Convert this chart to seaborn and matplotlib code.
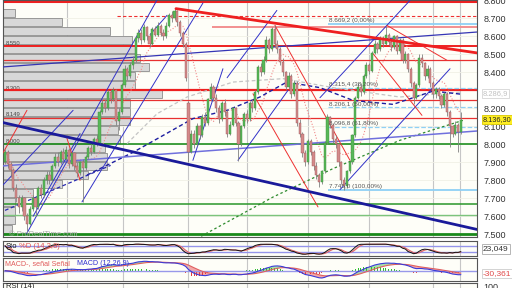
import numpy as np
import pandas as pd
import matplotlib
matplotlib.use("Agg")
import matplotlib.pyplot as plt
import matplotlib.transforms as mtrans
from matplotlib.ticker import FuncFormatter
import seaborn as sns

sns.set_theme(style="white")
plt.rcParams['font.family'] = ['Liberation Sans', 'DejaVu Sans']

# ---------------- data ----------------
opens = [7900,7960,7890,7860,7760,7700,7650,7700,7600,7560,
         7640,7700,7650,7760,7720,7800,7830,7800,7880,7930,
         7900,7960,7920,7970,7890,7950,7880,7840,7900,7870,
         7930,7980,7960,8030,8010,8180,8230,8200,8290,8250,
         8300,8130,8180,8330,8420,8380,8440,8470,8590,8620,
         8580,8650,8600,8560,8640,8610,8660,8620,8600,8660,
         8720,8700,8740,8680,8620,8560,8230,7960,8060,8000,
         8100,8050,8150,8120,8250,8320,8260,8200,8140,8230,
         8180,8060,8110,8200,8120,8000,8100,8170,8140,8230,
         8200,8290,8430,8400,8470,8580,8530,8640,8560,8530,
         8460,8400,8320,8380,8280,8340,8120,8060,7950,7900,
         8020,7960,7880,7830,7790,7850,8010,8150,8110,8030,
         8000,7900,7800,7770,7850,7900,8050,8260,8320,8290,
         8380,8440,8410,8510,8560,8530,8590,8560,8610,8570,
         8540,8600,8520,8580,8470,8500,8420,8340,8260,8330,
         8480,8450,8380,8420,8340,8280,8310,8270,8220,8280,
         8180,8100,8060,8110,8070]
closes = [7960,7890,7860,7760,7700,7650,7700,7600,7560,7640,
          7700,7650,7760,7720,7800,7830,7800,7880,7930,7900,
          7960,7920,7970,7890,7950,7880,7840,7900,7870,7930,
          7980,7960,8030,8010,8180,8230,8200,8290,8250,8300,
          8130,8180,8330,8420,8380,8440,8470,8590,8620,8580,
          8650,8600,8560,8640,8610,8660,8620,8600,8660,8720,
          8700,8740,8680,8620,8560,8370,7960,8060,8000,8100,
          8050,8150,8120,8250,8320,8260,8200,8140,8230,8180,
          8060,8110,8200,8120,8000,8100,8170,8140,8230,8200,
          8290,8430,8400,8470,8580,8530,8640,8560,8530,8460,
          8400,8320,8380,8280,8340,8120,8060,7950,7900,8020,
          7960,7880,7830,7790,7850,8010,8150,8110,8030,8000,
          7900,7800,7770,7850,7900,8050,8260,8320,8290,8380,
          8440,8410,8510,8560,8530,8590,8560,8610,8570,8540,
          8600,8520,8580,8470,8500,8420,8340,8260,8330,8480,
          8450,8380,8420,8340,8280,8310,8270,8220,8280,8180,
          8100,8060,8110,8070,8136.3]
highs = [7975,7970,7900,7870,7780,7720,7720,7710,7620,7660,
         7720,7710,7770,7780,7820,7850,7850,7890,7950,7960,
         7970,7980,7990,7980,7960,7960,7900,7910,7920,7940,
         7990,8000,8040,8050,8190,8250,8250,8300,8310,8320,
         8310,8200,8340,8440,8430,8460,8490,8600,8640,8640,
         8670,8660,8620,8650,8660,8680,8670,8640,8680,8730,
         8740,8755,8745,8690,8630,8570,8240,8080,8080,8120,
         8110,8170,8180,8260,8340,8330,8280,8220,8240,8250,
         8190,8130,8210,8210,8130,8110,8180,8190,8240,8250,
         8300,8440,8450,8490,8600,8590,8650,8665,8580,8540,
         8480,8410,8400,8390,8360,8350,8140,8070,7970,8030,
         8030,7970,7900,7840,7860,8020,8170,8160,8120,8050,
         8010,7910,7820,7860,7910,8060,8270,8340,8340,8390,
         8460,8450,8520,8580,8570,8600,8600,8660,8620,8590,
         8610,8610,8590,8590,8520,8510,8430,8350,8340,8500,
         8500,8460,8440,8430,8350,8320,8320,8280,8290,8290,
         8190,8110,8130,8120,8180]
lows = [7890,7870,7820,7740,7680,7620,7630,7580,7520,7550,
        7630,7600,7640,7700,7710,7780,7780,7790,7870,7880,
        7890,7900,7910,7870,7880,7860,7820,7830,7680,7860,
        7920,7940,7950,7990,8000,8170,8180,8190,8230,8240,
        8110,8080,8170,8320,8360,8370,8420,8460,8570,8560,
        8570,8580,8540,8550,8600,8600,8600,8580,8590,8650,
        8680,8690,8660,8600,8540,8350,7900,7950,7980,7990,
        8030,8040,8100,8110,8240,8240,8180,8120,8130,8160,
        8040,8050,8100,8100,7910,7990,8090,8120,8130,8180,
        8190,8280,8380,8390,8460,8510,8520,8540,8510,8440,
        8380,8300,8310,8260,8270,8100,8040,7930,7880,7890,
        7940,7860,7810,7762,7780,7840,8000,8090,8010,7980,
        7880,7780,7745,7760,7840,7890,8040,8250,8270,8280,
        8370,8390,8400,8500,8510,8520,8540,8550,8550,8520,
        8530,8500,8510,8450,8450,8400,8320,8225,8250,8320,
        8430,8360,8370,8320,8260,8260,8250,8200,8210,8160,
        7985,8040,8050,7957,8060]

# volume-at-price profile (left side)
prof_prices = [8730,8680,8630,8580,8530,8480,8430,8380,8330,8280,8230,8180,8130,
               8080,8030,7980,7930,7880,7830,7780,7730,7680,7630,7580,7530]
prof_volume = [12,59,107,129,132,137,146,132,132,159,127,127,127,
               115,117,102,104,104,85,59,30,12,12,12,9]
prof_labels = ["8.550", "8.300", "8.149", "8.000"]
prof_label_prices = [8560, 8312, 8165, 8018]

# horizontal support/resistance levels
lvl_prices = [8798, 8547, 8471, 8300, 8248, 8149, 8000, 7671, 7606, 7500]
lvl_colors = ["#ee2020", "#ee2020", "#e83030", "#ee2020", "#e83030", "#e83030",
              "#1f8f1f", "#2a962a", "#7cc47c", "#1a8a1a"]
lvl_widths = [2.2, 1.4, 0.9, 1.6, 0.9, 0.9, 1.2, 1.1, 1.0, 2.0]

# Fibonacci retracement
fib_start = 116.2
fib_prices = [8669.2, 8315.4, 8206.1, 8096.8, 7745.0]
fib_labels = ["8.669,2 (0,00%)", "8.315,4 (38,20%)", "8.206,1 (50,00%)",
              "8.096,8 (61,80%)", "7.745,0 (100,00%)"]
fib_styles = ["-", "--", "--", "--", "-"]

# axis tick values (8.300 is hidden behind the price box in the reference)
ytick_vals = [7500, 7600, 7700, 7800, 7900, 8000, 8100, 8200, 8400, 8500, 8600, 8700, 8800]

# trend lines: (start index, start price, end index, end price)
thick_lines = [(-0.8, 8121, 169.8, 7527, "#1a1a9a", 2.0),
               (61.5, 8754, 169.8, 8508, "#ee2020", 2.0)]
long_blue = [(-0.8, 8430, 169.8, 8624, "#3535b5", 0.9),
             (-0.8, 7880, 169.8, 8074, "#7070dd", 1.1)]
channel_blue = [(-0.8, 7773, 24.5, 8189), (7.8, 7504, 54.6, 8800),
                (27.7, 7680, 71.2, 8785), (10.1, 7600, 27.0, 8060),
                (52.2, 8610, 58.3, 8717), (67.6, 7911, 78.4, 8420),
                (79.9, 8370, 97.8, 8744), (83.8, 7911, 101.8, 8300),
                (113.3, 8259, 145.7, 8800), (120.5, 7748, 160.1, 8420)]
channel_red = [(89.2, 8281, 112.6, 7652), (97.1, 8661, 124.1, 7911),
               (132.4, 8504, 150.0, 8161), (137.4, 8661, 159.0, 8467),
               (22.3, 8033, 27.0, 7800), (-0.8, 7950, 7.9, 8189)]

# moving averages (index, value)
ma_blue_idx = [29.5, 46, 55.8, 67.6, 79.9, 91.7, 101.4, 113.3, 125.2, 139.6, 154, 164.4]
ma_blue_val = [7829, 7955, 8040, 8143, 8189, 8263, 8346, 8315, 8244, 8222, 8296, 8278]
ma_blue2_idx = [0, 38]
ma_blue2_val = [7633, 7883]
ma_green_idx = [69, 96.4, 118, 142, 164.7]
ma_green_val = [7476, 7707, 7865, 8022, 8133]
ma_grey_idx = [43.9, 54.7, 65.5, 82, 100, 118, 142, 164.4]
ma_grey_val = [8004, 8170, 8263, 8346, 8365, 8315, 8263, 8291]

month_lines = [22.3, 42.4, 65.8, 87.1, 109, 130.9, 154, 163.7]

# ---------------- figure ----------------
W, H = 512.0, 288.0
fig = plt.figure(figsize=(5.12, 2.88), dpi=100, facecolor="white")

def rect(x0, y0, x1, y1):
    return [x0 / W, 1 - y1 / H, (x1 - x0) / W, (y1 - y0) / H]

XL = (-0.72, 169.8)
YL = (7485, 8802)
BG = "#fefef8"
FRAME = "#555555"

def clean(a, face):
    a.set_facecolor(face)
    a.set_xticks([]); a.set_yticks([])
    a.set_xlabel(""); a.set_ylabel("")
    for s in a.spines.values():
        s.set_visible(False)

ax_bg = fig.add_axes(rect(3, 0, 477, 237))
clean(ax_bg, BG)
ax_bg.set_xlim(*XL); ax_bg.set_ylim(*YL)
for m in month_lines:
    ax_bg.axvline(m, color="#c6c6c6", lw=0.8)
for p in range(7500, 8801, 100):
    ax_bg.axhline(p, color="#f0f0e6", lw=0.6)

ax_prof = fig.add_axes(rect(3, 0, 477, 237))
clean(ax_prof, "none")
ax_prof.set_xlim(0, 474); ax_prof.set_ylim(*YL)
ax_prof.barh(prof_prices, prof_volume, height=48, left=0, color="#d8d8d8",
             edgecolor="#8c8c8c", linewidth=0.6, align="center")
for lab, pp in zip(prof_labels, prof_label_prices):
    ax_prof.text(3, pp, lab, fontsize=4.2, color="#444444", va="center", ha="left")

ax = fig.add_axes(rect(3, 0, 477, 237), facecolor="none")
ax.set_xlim(*XL); ax.set_ylim(*YL)

# levels
for p, c, w in zip(lvl_prices, lvl_colors, lvl_widths):
    ax.axhline(p, color=c, lw=w, zorder=2)
ax.hlines(8715, 40.3, XL[1], colors="#ee3030", linestyles=(0, (3, 2)), lw=0.8, zorder=2)
ax.hlines(8652, 74.5, XL[1], colors="#f29090", lw=1.4, zorder=2)

# Fibonacci
for p, lab, st in zip(fib_prices, fib_labels, fib_styles):
    ax.hlines(p, fib_start, XL[1], colors="#8fd0f5", linestyles=st,
              lw=1.3 if st == "-" else 0.9, zorder=2)
    ax.text(fib_start + 0.3, p + 4, lab, fontsize=4.6, color="#555555",
            va="bottom", ha="left", zorder=6)

# moving averages
s_close = pd.Series(closes)
ma_red = s_close.rolling(10, min_periods=1).mean()
sns.lineplot(x=np.arange(len(closes)), y=ma_red.values, ax=ax, color="#f08a8a",
             lw=0.8, linestyle=(0, (1, 1.6)), zorder=2)
sns.lineplot(x=ma_grey_idx, y=ma_grey_val, ax=ax, color="#c4c4c4", lw=0.9,
             linestyle=(0, (3, 2)), zorder=2)
sns.lineplot(x=ma_green_idx, y=ma_green_val, ax=ax, color="#2e8b2e", lw=0.9,
             linestyle=(0, (2, 2)), zorder=2)
sns.lineplot(x=ma_blue_idx, y=ma_blue_val, ax=ax, color="#1e1ea0", lw=1.0,
             linestyle=(0, (3, 2)), zorder=2)
sns.lineplot(x=ma_blue2_idx, y=ma_blue2_val, ax=ax, color="#2a2ab0", lw=0.9,
             linestyle=(0, (3, 2)), zorder=2)

# trend lines
for x0, y0, x1, y1, c, w in long_blue:
    ax.plot([x0, x1], [y0, y1], color=c, lw=w, zorder=3)
for x0, y0, x1, y1 in channel_blue:
    ax.plot([x0, x1], [y0, y1], color="#3232c8", lw=0.7, zorder=3)
for x0, y0, x1, y1 in channel_red:
    ax.plot([x0, x1], [y0, y1], color="#ee3030", lw=0.7, zorder=3)

# candles
df = pd.DataFrame({"i": np.arange(len(closes)), "o": opens, "h": highs,
                   "l": lows, "c": closes})
up = df.c >= df.o
ax.vlines(df.i, df.l, df.h, color="#808080", lw=0.6, zorder=4)
bot = np.minimum(df.o, df.c)
hgt = np.maximum((df.c - df.o).abs(), 5)
ax.bar(df.i[up], hgt[up], bottom=bot[up], width=0.78, color="#58b858",
       edgecolor="#3c8c3c", linewidth=0.3, zorder=5)
ax.bar(df.i[~up], hgt[~up], bottom=bot[~up], width=0.78, color="#d48a8a",
       edgecolor="#9a5a5a", linewidth=0.3, zorder=5)

for x0, y0, x1, y1, c, w in thick_lines:
    ax.plot([x0, x1], [y0, y1], color=c, lw=w, zorder=6)

ax.text(1.5, 7497, "\u00a9 ProRealTime.com", fontsize=5.5, color="#a8a8a8",
        va="center", ha="left", zorder=6)

# axis styling
ax.set_xticks([])
ax.yaxis.tick_right()
ax.set_yticks(ytick_vals)
ax.yaxis.set_major_formatter(FuncFormatter(lambda v, _: f"{v/1000:.3f}"))
ax.tick_params(axis="y", labelsize=6.5, colors="#333333", length=0, pad=5)
ax.set_xlabel(""); ax.set_ylabel("")
for s in ax.spines.values():
    s.set_color(FRAME); s.set_linewidth(0.8)

blend = mtrans.blended_transform_factory(ax.transAxes, ax.transData)
ax.text(1.012, 8283, "8.286,9", transform=blend, fontsize=5.4, color="#c2c2c2",
        va="center", ha="left", clip_on=False, zorder=10,
        bbox=dict(boxstyle="square,pad=0.15", fc="white", ec="#d4d4d4", lw=0.6))
ax.text(1.012, 8137, "8.136,30", transform=blend, fontsize=5.3, color="#222222",
        va="center", ha="left", clip_on=False, zorder=10,
        bbox=dict(boxstyle="square,pad=0.12", fc="#ffee22", ec="#d8c800", lw=0.6))

# ---------------- stochastic ----------------
ax_sto = fig.add_axes(rect(3, 241, 477, 256))
ax_sto.set_facecolor(BG)
s_high = pd.Series(highs); s_low = pd.Series(lows)
ll = s_low.rolling(14, min_periods=1).min()
hh = s_high.rolling(14, min_periods=1).max()
k_raw = 100 * (s_close - ll) / (hh - ll)
k_s = k_raw.rolling(3, min_periods=1).mean()
d_s = k_s.rolling(3, min_periods=1).mean()
xi = np.arange(len(closes))
for m in month_lines:
    ax_sto.axvline(m, color="#c6c6c6", lw=0.8)
ax_sto.axhline(80, color="#9494ea", lw=1.0)
ax_sto.axhline(20, color="#9494ea", lw=1.0)
ax_sto.fill_between(xi, k_s.values, d_s.values, color="#f4b4b4", alpha=0.9, lw=0)
sns.lineplot(x=xi, y=d_s.values, ax=ax_sto, color="#e06060", lw=0.7)
sns.lineplot(x=xi, y=k_s.values, ax=ax_sto, color="#111111", lw=0.7)
ax_sto.set_xlim(*XL); ax_sto.set_ylim(-14, 126)
ax_sto.set_xticks([]); ax_sto.set_yticks([])
ax_sto.set_xlabel(""); ax_sto.set_ylabel("")
for s in ax_sto.spines.values():
    s.set_color(FRAME); s.set_linewidth(0.8)
ax_sto.text(0.006, 0.64, "Sto", transform=ax_sto.transAxes, fontsize=5.5,
            color="#111111", va="center", ha="left")
ax_sto.text(0.034, 0.64, "%D (14,3,3)", transform=ax_sto.transAxes, fontsize=5.5,
            color="#e05050", va="center", ha="left")

# ---------------- MACD ----------------
ax_m = fig.add_axes(rect(3, 258, 477, 281))
ax_m.set_facecolor(BG)
ema12 = s_close.ewm(span=12, adjust=False).mean()
ema26 = s_close.ewm(span=26, adjust=False).mean()
macd = (ema12 - ema26).values
sig = pd.Series(macd).ewm(span=9, adjust=False).mean().values
hist = macd - sig
for m in month_lines:
    ax_m.axvline(m, color="#c6c6c6", lw=0.8)
ax_m.axhline(0, color="#9898ea", lw=1.0)
ax_m.fill_between(xi, macd, sig, where=macd >= sig, color="#a8e0a8", lw=0, interpolate=True)
ax_m.fill_between(xi, macd, sig, where=macd < sig, color="#f4a8a8", lw=0, interpolate=True)
ax_m.bar(xi, hist, width=0.35, color=np.where(hist >= 0, "#2fbf2f", "#e83a3a"), lw=0)
sns.lineplot(x=xi, y=sig, ax=ax_m, color="#e06060", lw=0.8)
sns.lineplot(x=xi, y=macd, ax=ax_m, color="#3a3ad8", lw=0.8)
M = max(np.abs(macd).max(), np.abs(sig).max())
ax_m.set_xlim(*XL); ax_m.set_ylim(-1.1 * M, 1.35 * M)
ax_m.set_xticks([]); ax_m.set_yticks([])
ax_m.set_xlabel(""); ax_m.set_ylabel("")
for s in ax_m.spines.values():
    s.set_color(FRAME); s.set_linewidth(0.8)
ax_m.text(0.004, 0.77, "MACD-, se\u00f1al Se\u00f1al", transform=ax_m.transAxes,
          fontsize=5.1, color="#e05a5a", va="center", ha="left")
ax_m.text(0.157, 0.77, "MACD (12,26,9)", transform=ax_m.transAxes,
          fontsize=5.1, color="#3030d0", va="center", ha="left")

# ---------------- RSI (top only visible) ----------------
ax_r = fig.add_axes(rect(3, 283, 477, 320))
ax_r.set_facecolor(BG)
for m in month_lines:
    ax_r.axvline(m, color="#c6c6c6", lw=0.8)
ax_r.set_xlim(*XL); ax_r.set_ylim(0, 100)
ax_r.set_xticks([]); ax_r.set_yticks([])
for s in ax_r.spines.values():
    s.set_color(FRAME); s.set_linewidth(0.8)
ax_r.text(0.006, 0.9, "RSI (14)", transform=ax_r.transAxes, fontsize=5.5,
          color="#222222", va="center", ha="left")

# right-side value boxes
fig.text(483 / W, 1 - 249 / H, "23,049", fontsize=6, color="#333333", va="center",
         ha="left", bbox=dict(boxstyle="square,pad=0.15", fc="white", ec="#aaaaaa", lw=0.6))
fig.text(483 / W, 1 - 273.5 / H, "-30,361", fontsize=6, color="#e04848", va="center",
         ha="left", bbox=dict(boxstyle="square,pad=0.15", fc="white", ec="#cccccc", lw=0.6))
fig.text(483 / W, 1 - 287.5 / H, "100", fontsize=6.5, color="#333333", va="center", ha="left")

fig.savefig("out.png", dpi=100, facecolor="white")
